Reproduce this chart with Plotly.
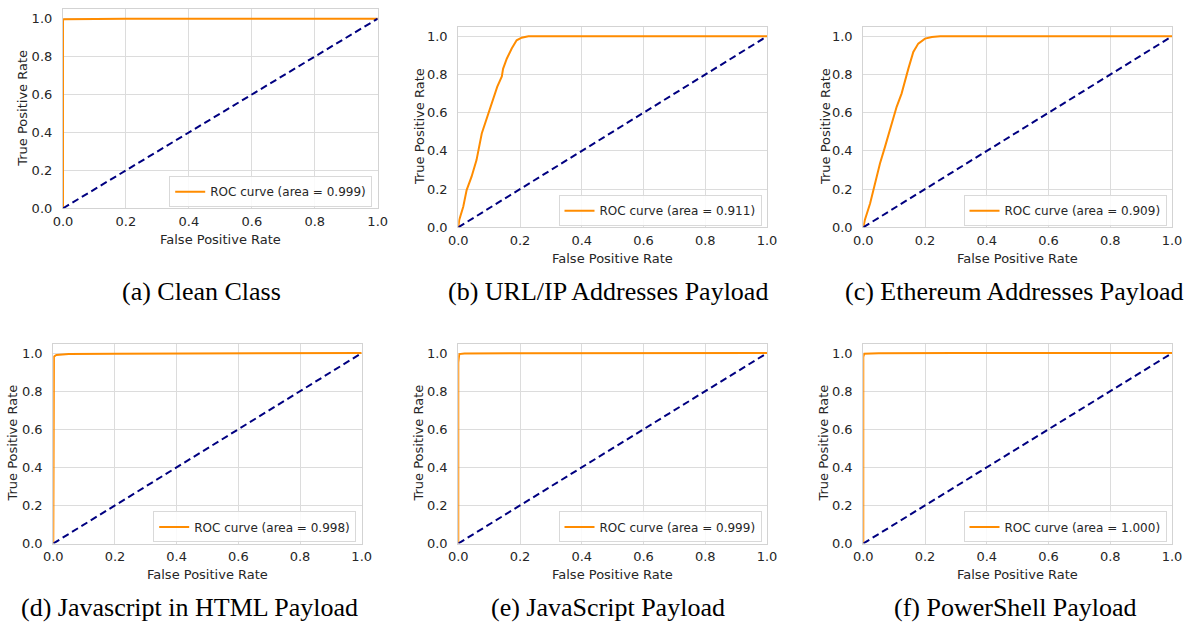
import plotly.graph_objects as go

W, H = 1190, 623

# ---------------- data ----------------
captions = ["(a) Clean Class", "(b) URL/IP Addresses Payload", "(c) Ethereum Addresses Payload",
            "(d) Javascript in HTML Payload", "(e) JavaScript Payload", "(f) PowerShell Payload"]
auc_values = [0.999, 0.911, 0.909, 0.998, 0.999, 1.000]

fpr_a = [0.0, 0.0, 0.0, 0.005, 0.05, 0.1, 0.2, 0.4, 0.6, 1.0]
tpr_a = [0.0, 0.95, 0.995, 0.997, 0.998, 0.999, 0.999, 1.0, 1.0, 1.0]

fpr_b = [0.0, 0.003, 0.016, 0.027, 0.043, 0.059, 0.076, 0.094, 0.108, 0.126, 0.141, 0.145,
         0.157, 0.173, 0.189, 0.205, 0.227, 0.3, 0.5, 0.8, 1.0]
tpr_b = [0.0, 0.038, 0.108, 0.195, 0.265, 0.352, 0.491, 0.578, 0.648, 0.735, 0.79, 0.83,
         0.883, 0.936, 0.979, 0.993, 1.0, 1.0, 1.0, 1.0, 1.0]

fpr_c = [0.0, 0.005, 0.022, 0.038, 0.054, 0.07, 0.086, 0.108, 0.124, 0.135, 0.146, 0.162,
         0.178, 0.2, 0.222, 0.249, 0.4, 0.7, 1.0]
tpr_c = [0.0, 0.038, 0.125, 0.23, 0.334, 0.42, 0.509, 0.631, 0.70, 0.77, 0.831, 0.918,
         0.962, 0.988, 0.997, 1.0, 1.0, 1.0, 1.0]

fpr_d = [0.0, 0.0, 0.002, 0.01, 0.05, 0.2, 0.5, 0.7, 1.0]
tpr_d = [0.0, 0.9, 0.982, 0.99, 0.995, 0.997, 0.999, 1.0, 1.0]

fpr_e = [0.0, 0.0, 0.003, 0.02, 0.2, 0.5, 1.0]
tpr_e = [0.0, 0.95, 0.995, 0.998, 0.999, 1.0, 1.0]

fpr_f = [0.0, 0.0, 0.003, 0.05, 0.3, 1.0]
tpr_f = [0.0, 0.98, 0.997, 0.999, 1.0, 1.0]

chance_x = [0.0, 1.0]
chance_y = [0.0, 1.0]

tick_vals = [0.0, 0.2, 0.4, 0.6, 0.8, 1.0]
curves = [(fpr_a, tpr_a), (fpr_b, tpr_b), (fpr_c, tpr_c), (fpr_d, tpr_d), (fpr_e, tpr_e), (fpr_f, tpr_f)]

# ---------------- layout geometry (pixels) ----------------
# (left, right, bottom, top) of each plot area
boxes = [
    (63.0, 377.7, 208.3, 9.2),
    (458.3, 767.0, 227.3, 26.8),
    (863.3, 1172.0, 227.3, 26.8),
    (53.3, 361.7, 543.5, 343.6),
    (458.3, 767.0, 543.5, 343.6),
    (863.3, 1172.0, 543.5, 343.6),
]
caption_pos = [(201, 291), (608, 291), (1014.5, 291), (189, 607), (607.5, 607), (1015, 607)]
ytitle_x = [23, 419, 825, 13, 419, 824]


def px(x):
    return x / W


def py(y):
    return 1 - y / H


TXT = "#262626"
FONT = "DejaVu Sans"

fig = go.Figure()
layout = dict(
    width=W, height=H, autosize=False,
    margin=dict(l=0, r=0, t=0, b=0, autoexpand=False),
    paper_bgcolor="white", plot_bgcolor="white",
    showlegend=True,
    annotations=[],
)

for i, ((fx, ty), (l, r, b, t)) in enumerate(zip(curves, boxes)):
    n = i + 1
    xa = "x" if n == 1 else f"x{n}"
    ya = "y" if n == 1 else f"y{n}"
    leg = "legend" if n == 1 else f"legend{n}"

    fig.add_trace(go.Scatter(
        x=fx, y=ty, mode="lines", xaxis=xa, yaxis=ya,
        line=dict(color="#ff8c00", width=2),
        name=f"ROC curve (area = {auc_values[i]:.3f})",
        legend=leg, showlegend=True,
    ))
    fig.add_trace(go.Scatter(
        x=chance_x, y=chance_y, mode="lines", xaxis=xa, yaxis=ya,
        line=dict(color="#000080", width=2, dash="7px,4px"),
        showlegend=False, legend=leg,
    ))

    axcommon = dict(
        automargin=False, layer="below traces",
        showgrid=True, gridcolor="#dcdcdc", gridwidth=1,
        showline=True, mirror=True, linecolor="#d3d3d3", linewidth=1.2,
        zeroline=False, ticks="", tickvals=tick_vals, tickformat=".1f",
        tickfont=dict(family=FONT, size=13, color=TXT),
    )
    layout["xaxis" if n == 1 else f"xaxis{n}"] = dict(
        axcommon, domain=[px(l), px(r)], range=[0, 1], anchor=ya, ticklabelstandoff=1,
    )
    layout["yaxis" if n == 1 else f"yaxis{n}"] = dict(
        axcommon, domain=[py(b), py(t)], range=[0, 1.05], anchor=xa, ticklabelstandoff=7,
    )
    layout[leg] = dict(
        x=px(r - 5.5), y=py(b - 16.6), xanchor="right", yanchor="middle",
        bgcolor="rgba(255,255,255,0.85)", bordercolor="#d9d9d9", borderwidth=1,
        font=dict(family=FONT, size=12, color=TXT),
        itemwidth=30, tracegroupgap=0,
    )

    # axis titles
    layout["annotations"].append(dict(
        text="False Positive Rate", x=px((l + r) / 2), y=py(b + 31), xref="paper", yref="paper",
        xanchor="center", yanchor="middle", showarrow=False,
        font=dict(family=FONT, size=13, color=TXT),
    ))
    layout["annotations"].append(dict(
        text="True Positive Rate", x=px(ytitle_x[i]), y=py((b + t) / 2), xref="paper", yref="paper",
        xanchor="center", yanchor="middle", showarrow=False, textangle=-90,
        font=dict(family=FONT, size=13, color=TXT),
    ))
    # caption
    cx, cy = caption_pos[i]
    layout["annotations"].append(dict(
        text=captions[i], x=px(cx), y=py(cy), xref="paper", yref="paper",
        xanchor="center", yanchor="middle", showarrow=False,
        font=dict(family="Liberation Serif", size=26, color="black"),
    ))

fig.update_layout(**layout)
fig.write_html(
    "out.html",
    config={"displayModeBar": False},
    post_script="document.body.style.margin='0';document.body.style.overflow='hidden';",
)
